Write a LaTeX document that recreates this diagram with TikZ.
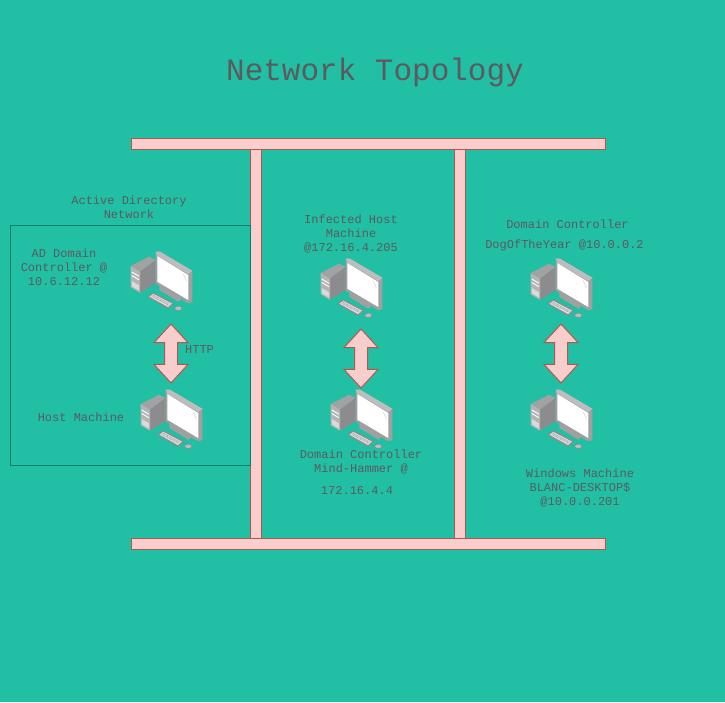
\documentclass[tikz,border=0pt]{standalone}
\usepackage{fontspec}
\setmainfont{Liberation Mono}
\usetikzlibrary{shapes.arrows}
\definecolor{bgteal}{HTML}{21C0A5}
\definecolor{boxline}{HTML}{0E7C6B}
\definecolor{busfill}{HTML}{F8CECC}
\definecolor{busline}{HTML}{B85450}
\definecolor{inktext}{HTML}{5C5A5E}
\definecolor{pcfront}{HTML}{B4B4B4}
\definecolor{pcside}{HTML}{8C8C8E}
\definecolor{pctop}{HTML}{A2A2A2}
\definecolor{pcframe}{HTML}{A0A0A0}
\definecolor{pcedge}{HTML}{BDBDBD}
\definecolor{pcdark}{HTML}{8A8A8A}
\definecolor{pckeys}{HTML}{DADADA}
\tikzset{
  bus/.style={draw=busline, fill=busfill, line width=1pt, rectangle, inner sep=0pt},
  duplex/.style={draw=busline, fill=busfill, line width=1pt, shape=double arrow, shape border rotate=90,
    inner sep=6pt, minimum height=59pt, double arrow head extend=10.5pt,
    double arrow tip angle=85},
  lbl/.style={text=inktext, align=center, font=\fontsize{12}{14}\selectfont, inner sep=0pt},
  computer/.pic={
    \fill[pctop] (10.7,26) -- (29,16.7) -- (35.7,20) -- (20,31.7) -- cycle;
    \fill[pcside] (20,31.7) -- (35.7,20) -- (35.7,43.3) -- (20,52.7) -- cycle;
    \fill[pcfront] (10.7,26) -- (20,31.7) -- (20,52.7) -- (10.7,47.3) -- cycle;
    \draw[white, line width=.9pt] (11.8,32) -- (18.8,36.2) (11.8,35.5) -- (18.8,39.7);
    \fill[pckeys] (11.8,41) -- (18.8,45.2) -- (18.8,50.5) -- (11.8,46.3) -- cycle;
    \fill[pcframe] (39.3,44) -- (39.3,50) -- (58.3,61.7) -- (61.7,59) -- (61.7,55) -- cycle;
    \fill[pcframe] (35.7,11.7) -- (40,11.7) -- (72.3,30.7) -- (72.3,62) -- (68.3,63.3) -- (35.7,43.3) -- cycle;
    \fill[pcedge] (35.7,11.7) -- (40,11.7) -- (72.3,30.7) -- (68.3,34) -- (37.3,15.5) -- cycle;
    \fill[white] (37.3,16) -- (68.3,35) -- (68.3,60) -- (37.3,41.7) -- cycle;
    \draw[pckeys, line width=.6pt] (63,33.5) -- (66.5,41);
    \fill[pcdark] (27.3,56.7) -- (33.3,52.3) -- (54,63.3) -- (48.3,69) -- cycle;
    \fill[pckeys] (29.3,56.7) -- (33.3,53.8) -- (52,63.6) -- (48.2,67.2) -- cycle;
    \draw[pcdark, line width=.5pt, dash pattern=on .8pt off .8pt] (31.6,56.2) -- (49,65.3) (33,55.2) -- (50.3,64.4);
    \draw[pcdark, fill=pcedge, line width=.5pt] (58.3,68.3) ellipse [x radius=3.6pt, y radius=2.2pt];
  }
}
\begin{document}
\begin{tikzpicture}[x=1pt, y=-1pt]
\fill[bgteal] (0,0) rectangle (725,702);
\useasboundingbox (0,0) rectangle (725,702);
\node[text=inktext, inner sep=0pt, font=\fontsize{31}{36}\selectfont] (title) at (375,72) {Network Topology};
\node[bus, minimum width=474pt, minimum height=11pt] (topbus) at (368,143.5) {};
\node[bus, minimum width=474pt, minimum height=11pt] (bottombus) at (368,543.5) {};
\node[bus, minimum width=11pt, minimum height=389pt] (leftbus) at (255.5,343.5) {};
\node[bus, minimum width=11pt, minimum height=389pt] (rightbus) at (459.5,343.5) {};
\node[draw=boxline, line width=1pt, inner sep=0pt, minimum width=240pt, minimum height=240pt] (adbox) at (130.5,345) {};
\pic at (120,240) {computer};
\pic at (310,247) {computer};
\pic at (520,247) {computer};
\pic at (130,378) {computer};
\pic at (320,378) {computer};
\pic at (520,378) {computer};
\node[duplex] (httplink) at (171,353.5) {};
\node[duplex] (midlink) at (361,358.5) {};
\node[duplex] (rightlink) at (561,353.5) {};
\node[lbl] (adnet) at (129,207) {Active Directory\\Network};
\node[lbl] (adctrl) at (64,267) {AD Domain\\Controller @\\10.6.12.12};
\node[lbl] (http) at (199.5,350) {HTTP};
\node[lbl] (hostlbl) at (81,417.5) {Host Machine};
\node[lbl] (infected) at (351,234) {Infected Host\\Machine\\@172.16.4.205};
\node[lbl] (mindname) at (361,462) {Domain Controller\\Mind-Hammer @};
\node[lbl] (mindip) at (357,491) {172.16.4.4};
\node[lbl] (dogtitle) at (567.5,224) {Domain Controller};
\node[lbl] (dogname) at (564.5,245) {DogOfTheYear @10.0.0.2};
\node[lbl] (windows) at (580,487.5) {Windows Machine\\BLANC-DESKTOP\$\\@10.0.0.201};
\end{tikzpicture}
\end{document}
